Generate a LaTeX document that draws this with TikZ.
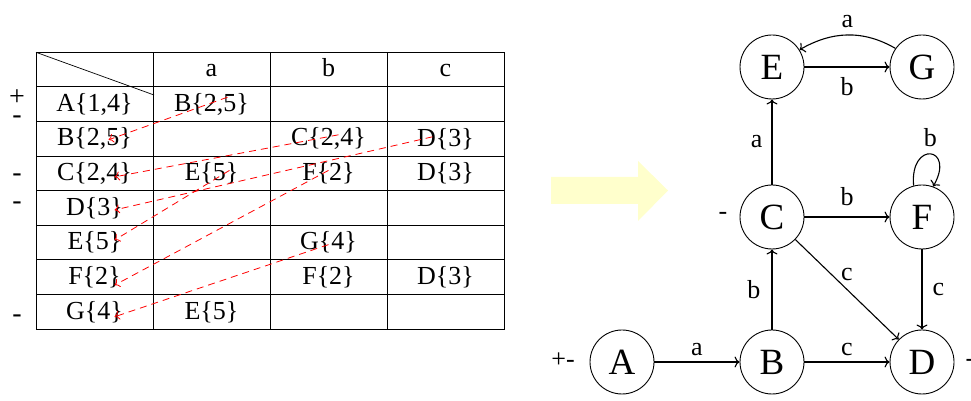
\documentclass[tikz,border=0pt]{standalone}
\usepackage{fontspec}
\setmainfont{Liberation Serif}
\usepackage{tikz}
\usetikzlibrary{arrows.meta}
\definecolor{dashred}{HTML}{FF0000}
\definecolor{arrowyellow}{HTML}{FFFFCC}
\tikzset{
  >={To[length=5pt,width=11pt]},
  cell/.style={font=\fontsize{26}{30}\selectfont, inner sep=1pt},
  hdr/.style={cell, anchor=base},
  signlbl/.style={font=\fontsize{28}{30}\selectfont, inner sep=0pt},
  gsign/.style={font=\fontsize{26}{28}\selectfont, inner sep=0pt},
  state/.style={
    circle,
    draw,
    line width=0.9pt,
    minimum size=64pt,
    inner sep=0pt,
    font=\fontsize{37}{40}\selectfont
  },
  edgelbl/.style={font=\fontsize{26}{28}\selectfont, inner sep=2pt},
  trans/.style={->, line width=1.1pt},
  backlink/.style={-{To[length=5pt,width=9pt]}, draw=dashred, line width=0.8pt,
    dash pattern=on 7pt off 5pt},
  gridline/.style={line width=0.9pt},
}

\begin{document}
\begin{tikzpicture}[x=1pt, y=1pt]
  \useasboundingbox (0,0) rectangle (971,401);

  % =====================================================================
  % LEFT — transition table
  % =====================================================================
  \draw[gridline] (36,71.9) rectangle (504,348.7);
  \foreach \x in {153,270,387}
    \draw[gridline] (\x,71.9) -- (\x,348.7);
  \foreach \y in {106.5,141.1,175.7,210.3,244.9,279.5,314.1}
    \draw[gridline] (36,\y) -- (504,\y);
  \draw[line width=0.7pt] (36,348.7) -- (154,306);

  % header row (on a common baseline)
  \node[hdr] (ha) at (211.5,324) {a};
  \node[hdr] (hb) at (328.5,324) {b};
  \node[hdr] (hc) at (445.5,324) {c};

  % rows
  \node[cell] (tA0) at (94.5,296.8) {A\{1,4\}};
  \node[cell] (tA1) at (211.5,296.8) {B\{2,5\}};
  \node[cell] (tB0) at (94.5,262.2) {B\{2,5\}};
  \node[cell] (tB2) at (328.5,262.2) {C\{2,4\}};
  \node[cell] (tB3) at (445.5,262.2) {D\{3\}};
  \node[cell] (tC0) at (94.5,227.6) {C\{2,4\}};
  \node[cell] (tC1) at (211.5,227.6) {E\{5\}};
  \node[cell] (tC2) at (328.5,227.6) {F\{2\}};
  \node[cell] (tC3) at (445.5,227.6) {D\{3\}};
  \node[cell] (tD0) at (94.5,193.0) {D\{3\}};
  \node[cell] (tE0) at (94.5,158.4) {E\{5\}};
  \node[cell] (tE2) at (328.5,158.4) {G\{4\}};
  \node[cell] (tF0) at (94.5,123.8) {F\{2\}};
  \node[cell] (tF2) at (328.5,123.8) {F\{2\}};
  \node[cell] (tF3) at (445.5,123.8) {D\{3\}};
  \node[cell] (tG0) at (94.5,89.2) {G\{4\}};
  \node[cell] (tG1) at (211.5,89.2) {E\{5\}};

  % start / final marks
  \node[signlbl] (mA1) at (17,303.5) {+};
  \node[signlbl] (mA2) at (17,281.2) {-};
  \node[signlbl] (mC) at (17,223.5) {-};
  \node[signlbl] (mD) at (17,195.2) {-};
  \node[signlbl] (mG) at (17,82.5) {-};

  % links back to the row of each new state
  \draw[backlink] ([xshift=16pt,yshift=7pt]tA1.center) -- ([xshift=14pt,yshift=-1pt]tB0.center);
  \draw[backlink] ([xshift=10pt,yshift=4pt]tB2.center) -- ([xshift=20pt,yshift=-3.5pt]tC0.center);
  \draw[backlink] ([xshift=-13pt,yshift=2pt]tB3.center) -- ([xshift=20pt,yshift=-2pt]tD0.center);
  \draw[backlink] ([xshift=18pt,yshift=3pt]tC1.center) -- ([xshift=20pt,yshift=2.5pt]tE0.center);
  \draw[backlink] ([yshift=3pt]tC2.center) -- ([xshift=20pt,yshift=-8pt]tF0.center);
  \draw[backlink] ([yshift=-2pt]tE2.center) -- ([xshift=20pt,yshift=-5pt]tG0.center);

  % =====================================================================
  % MIDDLE — block arrow
  % =====================================================================
  \fill[arrowyellow] (551,224) -- (638,224) -- (638,240) -- (668,210.5)
    -- (638,180) -- (638,197) -- (551,197) -- cycle;

  % =====================================================================
  % RIGHT — automaton
  % =====================================================================
  \node[state] (qE) at (772,334) {E};
  \node[state] (qG) at (922,334) {G};
  \node[state] (qC) at (772,184) {C};
  \node[state] (qF) at (922,184) {F};
  \node[state] (qA) at (622,39) {A};
  \node[state] (qB) at (772,39) {B};
  \node[state] (qD) at (922,39) {D};

  \node[gsign] (sA) at (563,41) {+-};
  \node[gsign] (sC) at (723,185.5) {-};
  \node[gsign] (sD) at (970,38.5) {-};

  \draw[trans] (qE) -- (qG) node[midway, below=8pt, edgelbl] {b};
  \draw[trans] (qG.145) to[out=150, in=30]
    node[edgelbl, above=5pt] {a} (qE.32);
  \draw[trans] (qC) -- (qE) node[midway, left=7pt, edgelbl] {a};
  \draw[trans] (qF.105) to[out=95, in=60, min distance=46pt]
    node[edgelbl, above=5pt] {b} (qF.70);
  \draw[trans] (qC) -- (qF) node[midway, above=9pt, edgelbl] {b};
  \draw[trans] (qC) -- (qD) node[midway, above=6pt, edgelbl] {c};
  \draw[trans] (qF) -- (qD) node[midway, right=8pt, edgelbl] {c};
  \draw[trans] (qB) -- (qC) node[midway, left=9pt, edgelbl] {b};
  \draw[trans] (qA) -- (qB) node[midway, above=4pt, edgelbl] {a};
  \draw[trans] (qB) -- (qD) node[midway, above=4pt, edgelbl] {c};

\end{tikzpicture}
\end{document}
